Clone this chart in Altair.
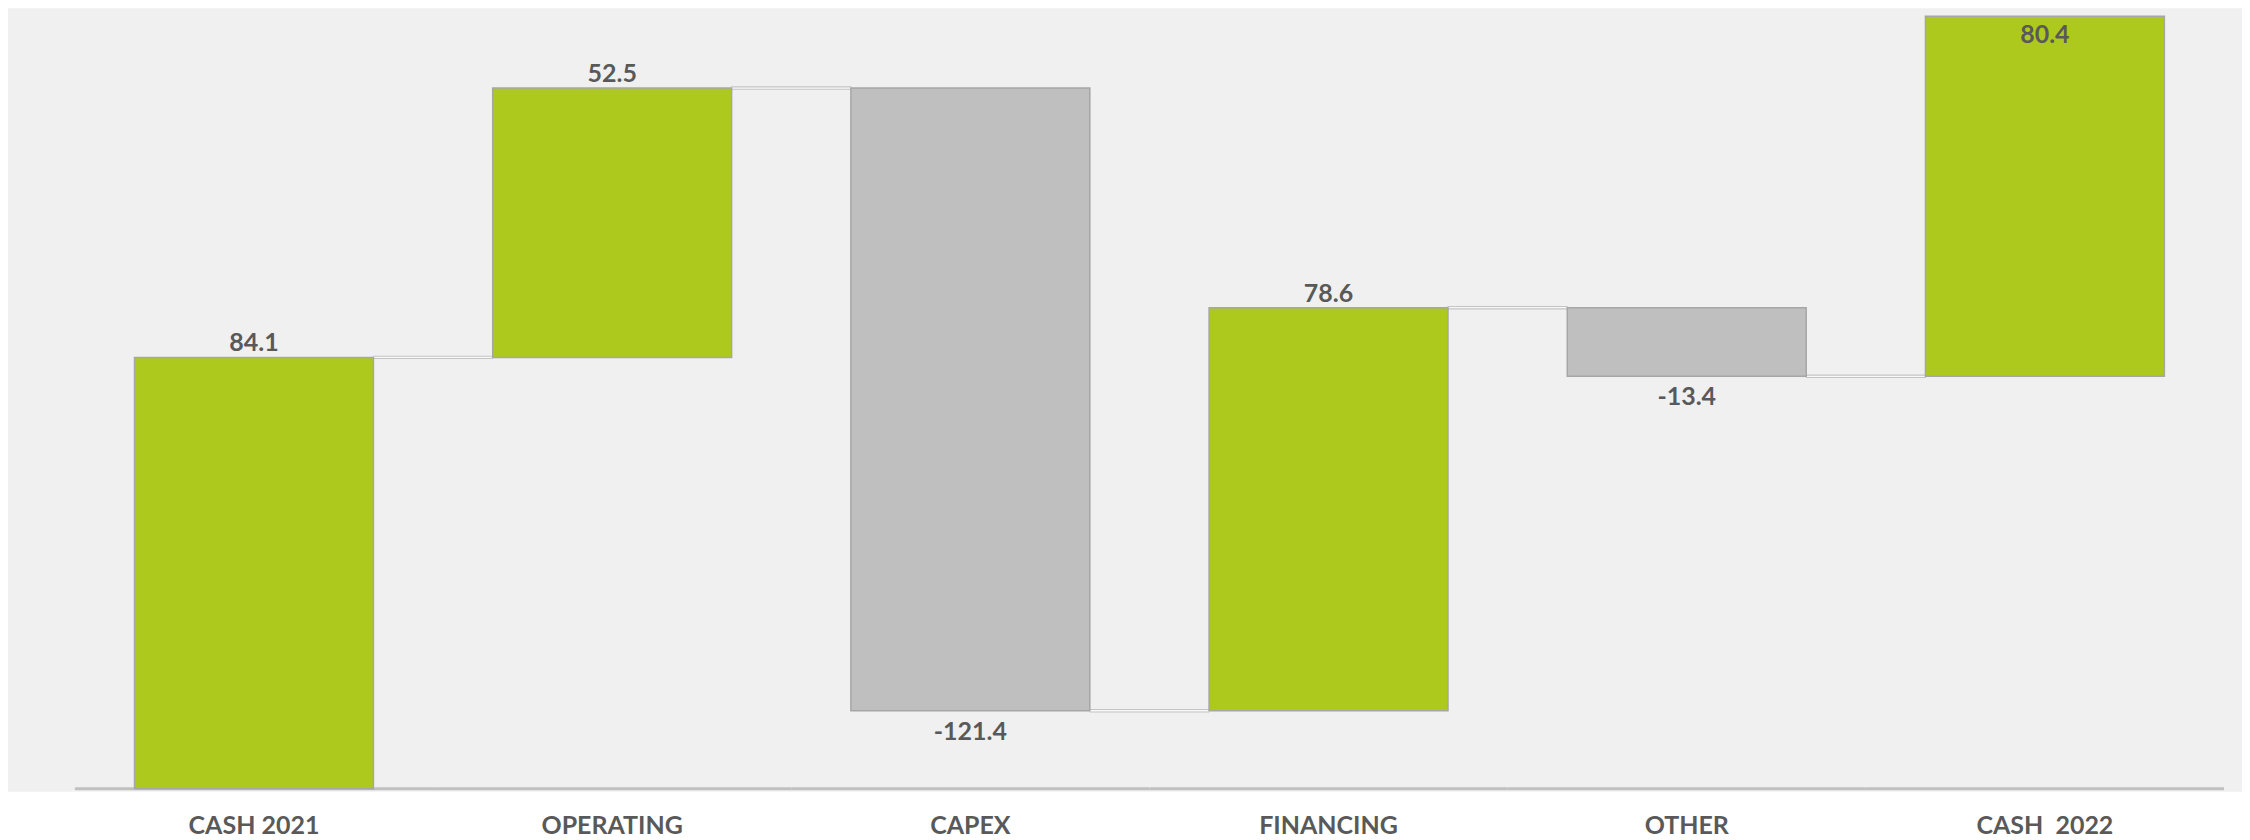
import altair as alt
import pandas as pd

# ---- data ----
categories = ["CASH 2021", "OPERATING", "CAPEX", "FINANCING", "OTHER", "CASH \u00a02022"]
values = [84.1, 52.5, -121.4, 78.6, -13.4, 80.4]
kinds = ["total", "delta", "delta", "delta", "delta", "total_end"]
label_text = ["84.1", "52.5", "-121.4", "78.6", "-13.4", "80.4"]
y_cut = 150.6          # value at which the last bar is cut off in the source
y_domain = [-0.58, 152.15]

# ---- build waterfall table ----
rows = []
running = 0.0
for cat, v, k, lab in zip(categories, values, kinds, label_text):
    if k == "total":
        start, end = 0.0, v
        running = v
    elif k == "delta":
        start, end = running, running + v
        running = end
    else:  # final total, drawn stacked on the running level as in the source
        start, end = running, running + v
    lo, hi = min(start, end), max(start, end)
    hi_vis = min(hi, y_cut)
    if k == "total_end":
        pos, ly = "inside", hi_vis
    elif v >= 0:
        pos, ly = "above", hi_vis
    else:
        pos, ly = "below", lo
    rows.append(dict(cat=cat, lo=lo, hi=hi_vis, sign="pos" if v >= 0 else "neg",
                     label=lab, pos=pos, ly=ly, level=running, zero=0.0))
bars = pd.DataFrame(rows)

conn = pd.DataFrame({
    "frm": categories[:-1],
    "level": [r["level"] for r in rows[:-1]],
})

W, H = 2236, 784
PO, ALIGN = 0.1185, 0.788
STEP = W / (len(categories) + 2 * PO)
BAND = 0.667
GAP = STEP * (1 - BAND)
FONT = "Lato"
TXT = "#595959"

xscale = alt.Scale(domain=categories, paddingInner=0, paddingOuter=PO, align=ALIGN)
yscale = alt.Scale(domain=y_domain, nice=False, zero=False)

base = alt.Chart(bars)

xaxis = alt.Axis(title=None, labelAngle=0, ticks=False, domain=False,
                 labelFont=FONT, labelFontSize=25, labelFontWeight="bold",
                 labelColor=TXT, labelPadding=22)

baseline = base.mark_tick(
    orient="horizontal", size=STEP, thickness=3, color="#c0c0c0", opacity=1
).encode(
    x=alt.X("cat:N", scale=xscale, sort=categories, axis=xaxis),
    y=alt.Y("zero:Q", scale=yscale, axis=None),
)

bar_layer = base.mark_bar(
    width=alt.RelativeBandSize(BAND), stroke="#a6a6a6", strokeWidth=1.5
).encode(
    x=alt.X("cat:N", scale=xscale, sort=categories),
    y=alt.Y("lo:Q", scale=yscale),
    y2="hi:Q",
    color=alt.Color("sign:N", scale=alt.Scale(domain=["pos", "neg"],
                                              range=["#aec91d", "#bfbfbf"]), legend=None),
)

conn_base = alt.Chart(conn)
conn_outer = conn_base.mark_tick(
    orient="horizontal", size=GAP + 1, thickness=3.5, color="#c4c4c4", opacity=1,
    xOffset=STEP / 2
).encode(
    x=alt.X("frm:N", scale=xscale, sort=categories),
    y=alt.Y("level:Q", scale=yscale),
)
conn_inner = conn_base.mark_tick(
    orient="horizontal", size=GAP + 1, thickness=1.3, color="#f8f8f8", opacity=1,
    xOffset=STEP / 2
).encode(
    x=alt.X("frm:N", scale=xscale, sort=categories),
    y=alt.Y("level:Q", scale=yscale),
)

def text_layer(pos, dy):
    return base.transform_filter(alt.datum.pos == pos).mark_text(
        font=FONT, fontSize=25, fontWeight="bold", color=TXT,
        baseline="alphabetic", align="center", dy=dy
    ).encode(
        x=alt.X("cat:N", scale=xscale, sort=categories),
        y=alt.Y("ly:Q", scale=yscale),
        text="label:N",
    )

chart = alt.layer(
    baseline, conn_outer, conn_inner, bar_layer,
    text_layer("above", -6), text_layer("below", 29), text_layer("inside", 27),
).properties(width=W, height=H, padding=0, background="white").configure_view(
    stroke=None, fill="#f0f0f0"
)

chart.save("out.html", embed_options={"renderer": "svg", "actions": False})
